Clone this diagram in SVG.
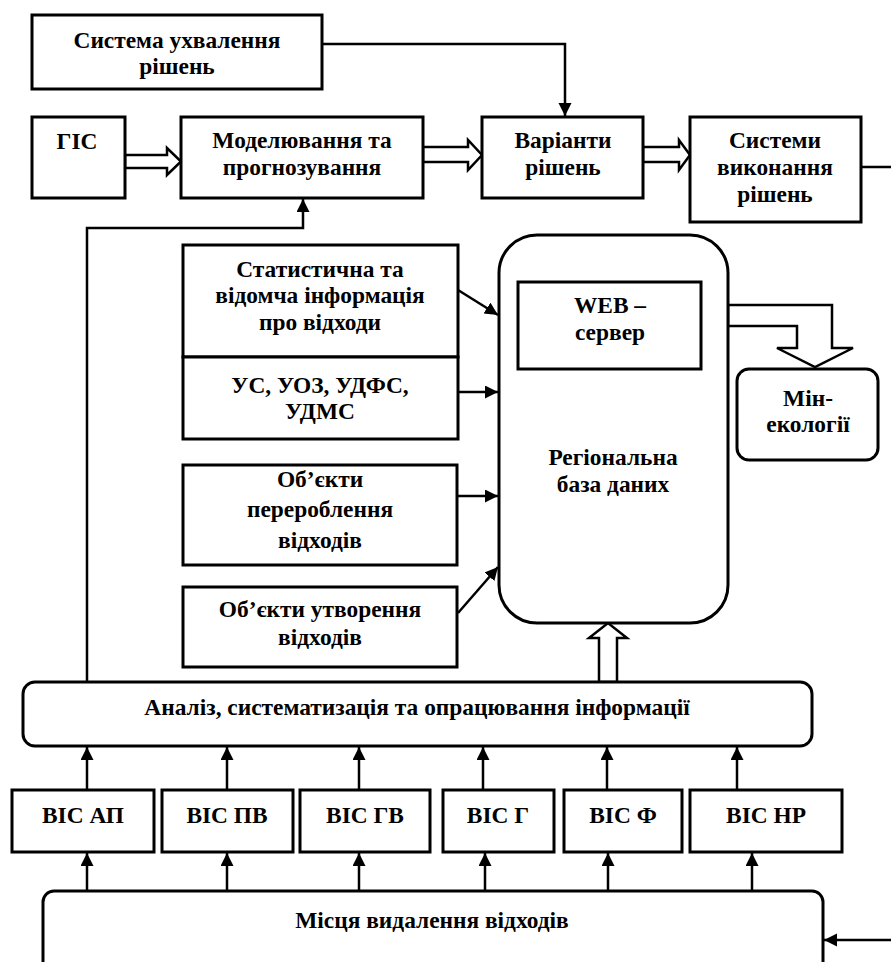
<svg xmlns="http://www.w3.org/2000/svg" width="891" height="962" viewBox="0 0 891 962">
<style>
.box{fill:#fff;stroke:#000;stroke-width:3}
.t{font-family:'Liberation Serif','DejaVu Serif','Noto Serif',serif;font-weight:700;font-size:23.4px;fill:#000;text-anchor:middle}
.c{fill:none;stroke:#000;stroke-width:2.5}
.h{fill:#fff;stroke:#000;stroke-width:2.5;stroke-linejoin:miter}
</style>
<defs>
<marker id="ah" markerUnits="userSpaceOnUse" markerWidth="14" markerHeight="14" refX="13" refY="6.5" orient="auto">
<path d="M0,0 L13,6.5 L0,13 z" fill="#000"/>
</marker>
</defs>
<rect width="891" height="962" fill="#fff"/>
<g id="connectors">
<path class="c" d="M322,44 H565 V116" marker-end="url(#ah)"/>
<path class="c" d="M87,682 V228 H303 V199" marker-end="url(#ah)"/>
<path class="c" d="M861,167 H897 V940 H824" marker-end="url(#ah)"/>
<path class="c" d="M458,290 L498,315" marker-end="url(#ah)"/>
<path class="c" d="M458,392 H498" marker-end="url(#ah)"/>
<path class="c" d="M458,496 H498" marker-end="url(#ah)"/>
<path class="c" d="M458,613 L498,567" marker-end="url(#ah)"/>
<path class="c" d="M87,790 V747" marker-end="url(#ah)"/>
<path class="c" d="M227,790 V747" marker-end="url(#ah)"/>
<path class="c" d="M359,790 V747" marker-end="url(#ah)"/>
<path class="c" d="M483,790 V747" marker-end="url(#ah)"/>
<path class="c" d="M607,790 V747" marker-end="url(#ah)"/>
<path class="c" d="M737,790 V747" marker-end="url(#ah)"/>
<path class="c" d="M87,891 V853" marker-end="url(#ah)"/>
<path class="c" d="M227,891 V853" marker-end="url(#ah)"/>
<path class="c" d="M359,891 V853" marker-end="url(#ah)"/>
<path class="c" d="M485,891 V853" marker-end="url(#ah)"/>
<path class="c" d="M608,891 V853" marker-end="url(#ah)"/>
<path class="c" d="M752,891 V853" marker-end="url(#ah)"/>
<polygon class="h" points="125,155 167,155 167,148 181,161.5 167,175 167,168 125,168"/>
<polygon class="h" points="423,147 468,147 468,140 482,155 468,170 468,162 423,162"/>
<polygon class="h" points="643,147 679,147 679,140 690,155 679,170 679,162 643,162"/>
<polygon class="h" points="728,305 832,305 832,348 853,348 815,367 777,348 797,348 797,326 728,326"/>
<polygon class="h" points="599,682 599,638 589,638 608,623 627,638 617,638 617,682"/>
</g>
<g id="n-system-decisions">
<rect class="box" x="32" y="15" width="290" height="74"/>
<text class="t" x="177" y="48">Система ухвалення</text>
<text class="t" x="177" y="74">рішень</text>
</g>
<g id="n-gis">
<rect class="box" x="32" y="117" width="93" height="81"/>
<text class="t" x="77" y="149">ГІС</text>
</g>
<g id="n-modeling">
<rect class="box" x="181" y="117" width="242" height="81"/>
<text class="t" x="302" y="148">Моделювання та</text>
<text class="t" x="302" y="175">прогнозування</text>
</g>
<g id="n-variants">
<rect class="box" x="482" y="117" width="161" height="81"/>
<text class="t" x="563" y="148">Варіанти</text>
<text class="t" x="563" y="175">рішень</text>
</g>
<g id="n-execution">
<rect class="box" x="690" y="117" width="171" height="105"/>
<text class="t" x="775" y="148">Системи</text>
<text class="t" x="775" y="175">виконання</text>
<text class="t" x="775" y="202">рішень</text>
</g>
<g id="n-statistics">
<rect class="box" x="183" y="245" width="275" height="112"/>
<text class="t" x="320" y="277">Статистична та</text>
<text class="t" x="320" y="303">відомча інформація</text>
<text class="t" x="320" y="330">про відходи</text>
</g>
<g id="n-agencies">
<rect class="box" x="183" y="357" width="275" height="82"/>
<text class="t" x="320" y="393">УС, УОЗ, УДФС,</text>
<text class="t" x="320" y="419">УДМС</text>
</g>
<g id="n-processing">
<rect class="box" x="183" y="465" width="274" height="100"/>
<text class="t" x="320" y="487">Об’єкти</text>
<text class="t" x="320" y="517">перероблення</text>
<text class="t" x="320" y="548">відходів</text>
</g>
<g id="n-generation">
<rect class="box" x="183" y="587" width="274" height="80"/>
<text class="t" x="320" y="617">Об’єкти утворення</text>
<text class="t" x="320" y="645">відходів</text>
</g>
<g id="n-regional-db">
<rect class="box" x="499" y="235" width="229" height="388" rx="38"/>
<text class="t" x="613" y="465">Регіональна</text>
<text class="t" x="613" y="492">база даних</text>
</g>
<g id="n-web">
<rect class="box" x="518" y="282" width="183" height="87"/>
<text class="t" x="610" y="313">WEB –</text>
<text class="t" x="610" y="340">сервер</text>
</g>
<g id="n-ministry">
<rect class="box" x="737" y="369" width="141" height="91" rx="12"/>
<text class="t" x="808" y="406">Мін-</text>
<text class="t" x="808" y="432">екології</text>
</g>
<g id="n-analysis">
<rect class="box" x="23" y="682" width="789" height="64" rx="12"/>
<text class="t" x="417" y="715">Аналіз, систематизація та опрацювання інформації</text>
</g>
<g id="n-vis-ap">
<rect class="box" x="12" y="790" width="142" height="62"/>
<text class="t" x="83" y="823">ВІС АП</text>
</g>
<g id="n-vis-pv">
<rect class="box" x="162" y="790" width="131" height="62"/>
<text class="t" x="227" y="823">ВІС ПВ</text>
</g>
<g id="n-vis-gv">
<rect class="box" x="300" y="790" width="130" height="62"/>
<text class="t" x="365" y="823">ВІС ГВ</text>
</g>
<g id="n-vis-g">
<rect class="box" x="443" y="790" width="111" height="62"/>
<text class="t" x="498" y="823">ВІС Г</text>
</g>
<g id="n-vis-f">
<rect class="box" x="564" y="790" width="118" height="62"/>
<text class="t" x="623" y="823">ВІС Ф</text>
</g>
<g id="n-vis-nr">
<rect class="box" x="690" y="790" width="152" height="62"/>
<text class="t" x="766" y="823">ВІС НР</text>
</g>
<g id="n-disposal">
<rect class="box" x="43" y="891" width="780" height="100" rx="11"/>
<text class="t" x="432" y="928">Місця видалення відходів</text>
</g>
</svg>
